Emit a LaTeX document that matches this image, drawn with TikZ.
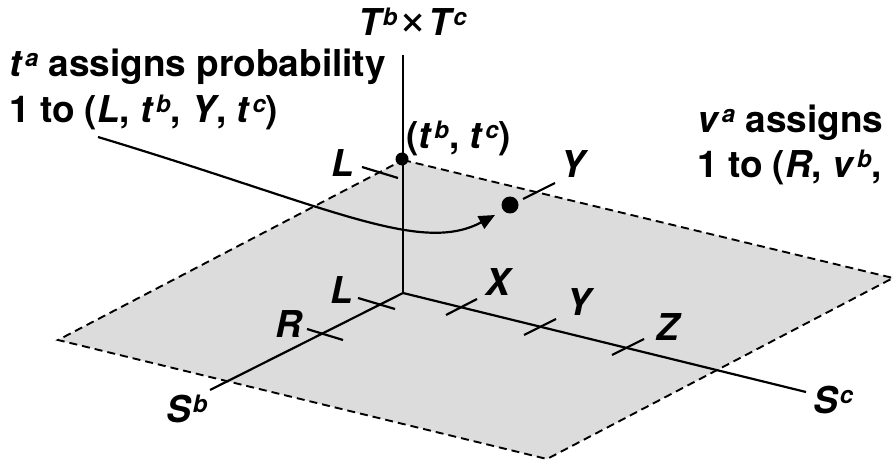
\documentclass[tikz,border=0pt]{standalone}
\usepackage{graphicx}
\usepackage{fontspec}
\setmainfont{TeX Gyre Heros}
\usetikzlibrary{arrows.meta}
\definecolor{planegray}{RGB}{220,220,220}
\newcommand\spr[1]{\kern2pt\raisebox{10pt}{\fontsize{24}{24}\selectfont\bfseries\itshape #1}}
\newcommand\vi[1]{\textit{#1}}
\newcommand\bigtimes{\kern1pt\scalebox{1.35}{\mdseries\upshape ×}\kern1pt}
\begin{document}
\begin{tikzpicture}[x=1pt,y=-1pt,
  axisline/.style={line width=2.2pt},
  edgeline/.style={line width=1.9pt, dash pattern=on 8pt off 5pt},
  tickline/.style={line width=2.2pt},
  labtxt/.style={font=\fontsize{37}{44}\selectfont\bfseries\itshape, inner sep=0pt, anchor=base west},
  bodytxt/.style={font=\fontsize{37}{44}\selectfont\bfseries, inner sep=0pt, anchor=base west},
  dotnode/.style={circle, fill=black, inner sep=0pt},
  pointer/.style={line width=2.2pt, -{Triangle[length=16pt,width=14pt]}}]
\useasboundingbox (0,0) rectangle (894,465);
% plane
\coordinate (ptop) at (403,160);
\coordinate (pright) at (893,278);
\coordinate (pbot) at (547,459);
\coordinate (pleft) at (58,340);
\fill[planegray] (ptop) -- (pright) -- (pbot) -- (pleft) -- cycle;
\draw[edgeline] (ptop) -- (pright) -- (pbot) -- (pleft) -- cycle;
% axes
\coordinate (O) at (403,293);
\coordinate (Tend) at (403,55);
\coordinate (Sbend) at (210,390);
\coordinate (Scend) at (806,392);
\draw[axisline] (Tend) -- (O);
\draw[axisline] (Sbend) -- (O) -- (Scend);
% ticks on S^b (lower)
\coordinate (tLa) at (358,298); \coordinate (tLb) at (395,309);
\coordinate (tRa) at (307,329); \coordinate (tRb) at (343,340);
\draw[tickline] (tLa) -- (tLb);
\draw[tickline] (tRa) -- (tRb);
% ticks on S^c (lower)
\coordinate (tXa) at (446,315); \coordinate (tXb) at (477,299);
\coordinate (tYa) at (524,335); \coordinate (tYb) at (556,319);
\coordinate (tZa) at (612,355); \coordinate (tZb) at (644,339);
\draw[tickline] (tXa) -- (tXb);
\draw[tickline] (tYa) -- (tYb);
\draw[tickline] (tZa) -- (tZb);
% ticks on upper plane
\coordinate (uLa) at (362,167); \coordinate (uLb) at (398,178);
\coordinate (uYa) at (523,199); \coordinate (uYb) at (555,183);
\draw[tickline] (uLa) -- (uLb);
\draw[tickline] (uYa) -- (uYb);
% dots
\node[dotnode, minimum size=13pt] (tdot) at (402,159) {};
\node[dotnode, minimum size=17pt] (pdot) at (510,205) {};
% labels
\node[labtxt] (labT) at (358,36) {T\spr{b}\bigtimes T\spr{c}};
\node[bodytxt] (labtt) at (406,149) {(\vi{t}\spr{b}, \vi{t}\spr{c})};
\node[labtxt] (labLu) at (331,177) {L};
\node[labtxt] (labYu) at (560,178) {Y};
\node[labtxt] (labLl) at (330,303) {L};
\node[labtxt] (labR) at (275,337) {R};
\node[labtxt] (labX) at (485,295) {X};
\node[labtxt] (labYl) at (566,315) {Y};
\node[labtxt] (labZ) at (656,340) {Z};
\node[labtxt] (labSb) at (166,422) {S\spr{b}};
\node[labtxt] (labSc) at (813,413) {S\spr{c}};
% left text
\node[bodytxt] (tnoteA) at (9,77) {\vi{t}\spr{a} assigns probability};
\node[bodytxt] (tnoteB) at (9,123) {1 to (\vi{L}, \vi{t}\spr{b}, \vi{Y}, \vi{t}\spr{c})};
% right text
\node[bodytxt] (vnoteA) at (697,133) {\vi{v}\spr{a} assigns};
\node[bodytxt] (vnoteB) at (697,178) {1 to (\vi{R}, \vi{v}\spr{b},};
% pointer curve
\coordinate (cstart) at (98,137);
\coordinate (cend) at (495,215);
\draw[pointer] (cstart) .. controls (330,207) and (420,255) .. (cend);
\end{tikzpicture}
\end{document}
